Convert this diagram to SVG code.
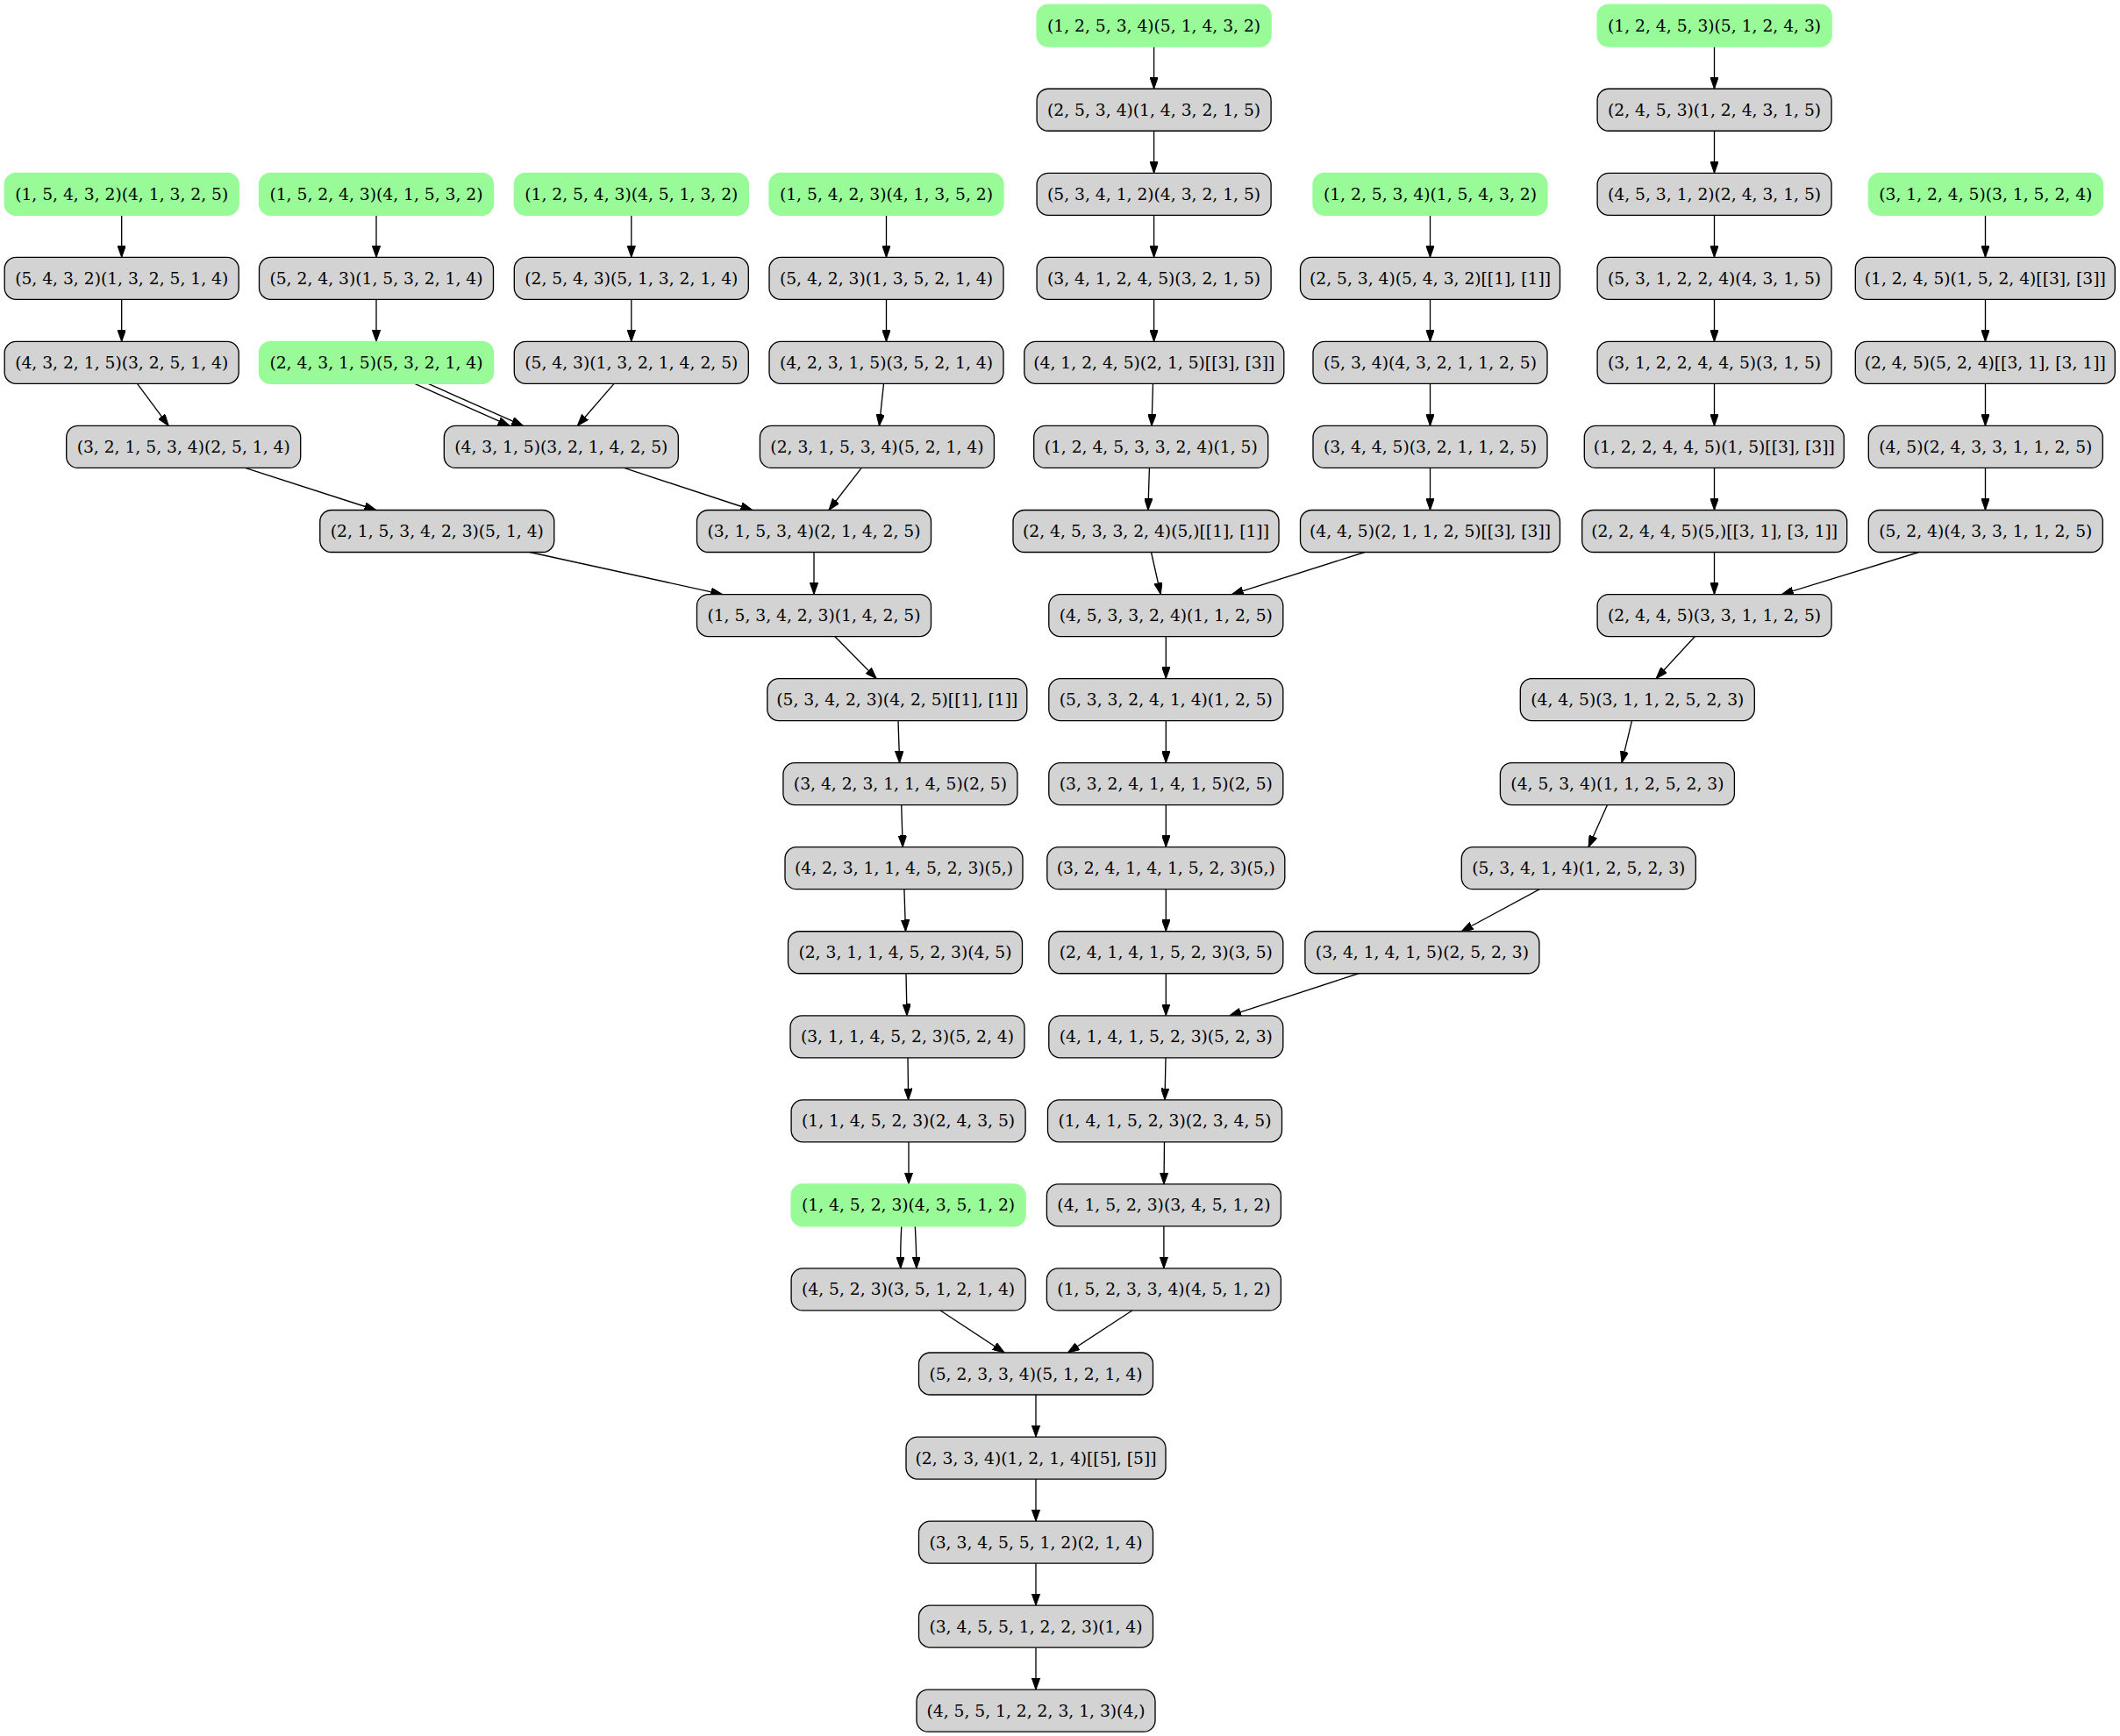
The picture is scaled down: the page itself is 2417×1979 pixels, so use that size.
<svg xmlns="http://www.w3.org/2000/svg" width="2417" height="1979" viewBox="0 0 2417 1979">
<style>
.n rect{fill:#d3d3d3;stroke:#000;stroke-width:1.33}
.g rect{fill:#98fb98;stroke:#98fb98;stroke-width:1.33}
text{font-family:"DejaVu Serif","Liberation Serif",serif;font-size:18.7px;text-anchor:middle;fill:#000}
.e path{fill:none;stroke:#000;stroke-width:1.33;marker-end:url(#ah)}
</style>
<defs>
<marker id="ah" markerUnits="userSpaceOnUse" viewBox="0 0 13.3 9.4" markerWidth="13.3" markerHeight="9.4" refX="13.3" refY="4.7" orient="auto">
<path d="M0,0 L13.3,4.7 L0,9.4 z" fill="#000" stroke="#000" stroke-width="1"/>
</marker>
</defs>
<rect width="2417" height="1979" fill="#fff"/>
<g class="e" id="edges">
<path d="M1315.6,53.2 L1315.6,101.25"/>
<path d="M1315.6,149.25 L1315.6,197.3"/>
<path d="M1315.6,245.3 L1315.6,293.35"/>
<path d="M1315.6,341.35 L1315.6,389.4"/>
<path d="M1314.5,437.4 L1313,485.45"/>
<path d="M1310.4,533.45 L1308.9,581.5"/>
<path d="M1312.5,629.5 L1323.3,677.55"/>
<path d="M1555.8,629.5 L1404.4,677.55"/>
<path d="M1954.5,53.2 L1954.5,101.25"/>
<path d="M1954.5,149.25 L1954.5,197.3"/>
<path d="M1954.5,245.3 L1954.5,293.35"/>
<path d="M1954.5,341.35 L1954.5,389.4"/>
<path d="M1954.5,437.4 L1954.5,485.45"/>
<path d="M1954.5,533.45 L1954.5,581.5"/>
<path d="M1954.5,629.5 L1954.5,677.55"/>
<path d="M2263.5,245.3 L2263.5,293.35"/>
<path d="M2263.5,341.35 L2263.5,389.4"/>
<path d="M2263.5,437.4 L2263.5,485.45"/>
<path d="M2263.5,533.45 L2263.5,581.5"/>
<path d="M2187.7,629.5 L2031.4,677.55"/>
<path d="M1630.5,245.3 L1630.5,293.35"/>
<path d="M1630.5,341.35 L1630.5,389.4"/>
<path d="M1630.5,437.4 L1630.5,485.45"/>
<path d="M1630.5,533.45 L1630.5,581.5"/>
<path d="M1932.4,725.55 L1888.1,773.6"/>
<path d="M1860.5,821.6 L1849,869.65"/>
<path d="M1832.4,917.65 L1811,965.7"/>
<path d="M1755.3,1013.7 L1666.2,1061.75"/>
<path d="M1549,1109.75 L1401.8,1157.8"/>
<path d="M1329.3,725.55 L1329.3,773.6"/>
<path d="M1329.3,821.6 L1329.3,869.65"/>
<path d="M1329.3,917.65 L1329.3,965.7"/>
<path d="M1329.3,1013.7 L1329.3,1061.75"/>
<path d="M1329.3,1109.75 L1329.3,1157.8"/>
<path d="M1329,1205.8 L1328,1253.85"/>
<path d="M1327.5,1301.85 L1327,1349.9"/>
<path d="M1326.9,1397.9 L1326.9,1445.95"/>
<path d="M1290.8,1493.95 L1217.4,1542"/>
<path d="M1072.2,1493.95 L1145.1,1542"/>
<path d="M1181,1590 L1181,1638.05"/>
<path d="M1181,1686.05 L1181,1734.1"/>
<path d="M1181,1782.1 L1181,1830.15"/>
<path d="M1181,1878.15 L1181,1926.2"/>
<path d="M1027.8,1397.9 Q1026.4,1420 1026.8,1445.95"/>
<path d="M1043.3,1397.9 Q1044.6,1420 1044.9,1445.95"/>
<path d="M1036,1301.85 L1036,1349.9"/>
<path d="M1035,1205.8 L1035.6,1253.85"/>
<path d="M1033,1109.75 L1034,1157.8"/>
<path d="M1030.9,1013.7 L1032.5,1061.75"/>
<path d="M1027.7,917.65 L1029.2,965.7"/>
<path d="M1024,821.6 L1025.6,869.65"/>
<path d="M951.7,725.55 L999.3,773.6"/>
<path d="M928,629.5 L928,677.55"/>
<path d="M604,629.5 L823.6,677.55"/>
<path d="M711.5,533.45 L857.7,581.5"/>
<path d="M982.2,533.45 L945,581.5"/>
<path d="M279.5,533.45 L428.8,581.5"/>
<path d="M156.5,437.4 L192.2,485.45"/>
<path d="M472.8,437.4 L581,485.45"/>
<path d="M488.2,437.4 L596.5,485.45"/>
<path d="M700.1,437.4 L658.3,485.45"/>
<path d="M1007.5,437.4 L1002.4,485.45"/>
<path d="M138.7,245.3 L138.7,293.35"/>
<path d="M138.7,341.35 L138.7,389.4"/>
<path d="M429,245.3 L429,293.35"/>
<path d="M429,341.35 L429,389.4"/>
<path d="M719.8,245.3 L719.8,293.35"/>
<path d="M719.8,341.35 L719.8,389.4"/>
<path d="M1010.5,245.3 L1010.5,293.35"/>
<path d="M1010.5,341.35 L1010.5,389.4"/>
</g>
<g id="A0" class="g"><rect x="1182.1" y="5.2" width="267" height="48" rx="13"/><text x="1315.6" y="35.7">(1, 2, 5, 3, 4)(5, 1, 4, 3, 2)</text></g>
<g id="B0" class="g"><rect x="1821.1" y="5.2" width="267" height="48" rx="13"/><text x="1954.6" y="35.7">(1, 2, 4, 5, 3)(5, 1, 2, 4, 3)</text></g>
<g id="A1" class="n"><rect x="1182.1" y="101.25" width="267" height="48" rx="13"/><text x="1315.6" y="131.75">(2, 5, 3, 4)(1, 4, 3, 2, 1, 5)</text></g>
<g id="B1" class="n"><rect x="1821.1" y="101.25" width="267" height="48" rx="13"/><text x="1954.6" y="131.75">(2, 4, 5, 3)(1, 2, 4, 3, 1, 5)</text></g>
<g id="C0" class="g"><rect x="5.2" y="197.3" width="267" height="48" rx="13"/><text x="138.7" y="227.8">(1, 5, 4, 3, 2)(4, 1, 3, 2, 5)</text></g>
<g id="D0" class="g"><rect x="295.5" y="197.3" width="267" height="48" rx="13"/><text x="429" y="227.8">(1, 5, 2, 4, 3)(4, 1, 5, 3, 2)</text></g>
<g id="E0" class="g"><rect x="586.3" y="197.3" width="267" height="48" rx="13"/><text x="719.8" y="227.8">(1, 2, 5, 4, 3)(4, 5, 1, 3, 2)</text></g>
<g id="F0" class="g"><rect x="877" y="197.3" width="267" height="48" rx="13"/><text x="1010.5" y="227.8">(1, 5, 4, 2, 3)(4, 1, 3, 5, 2)</text></g>
<g id="A2" class="n"><rect x="1182.1" y="197.3" width="267" height="48" rx="13"/><text x="1315.6" y="227.8">(5, 3, 4, 1, 2)(4, 3, 2, 1, 5)</text></g>
<g id="G0" class="g"><rect x="1497" y="197.3" width="267" height="48" rx="13"/><text x="1630.5" y="227.8">(1, 2, 5, 3, 4)(1, 5, 4, 3, 2)</text></g>
<g id="B2" class="n"><rect x="1821.1" y="197.3" width="267" height="48" rx="13"/><text x="1954.6" y="227.8">(4, 5, 3, 1, 2)(2, 4, 3, 1, 5)</text></g>
<g id="H0" class="g"><rect x="2130.3" y="197.3" width="267" height="48" rx="13"/><text x="2263.8" y="227.8">(3, 1, 2, 4, 5)(3, 1, 5, 2, 4)</text></g>
<g id="C1" class="n"><rect x="5.2" y="293.35" width="267" height="48" rx="13"/><text x="138.7" y="323.85">(5, 4, 3, 2)(1, 3, 2, 5, 1, 4)</text></g>
<g id="D1" class="n"><rect x="295.5" y="293.35" width="267" height="48" rx="13"/><text x="429" y="323.85">(5, 2, 4, 3)(1, 5, 3, 2, 1, 4)</text></g>
<g id="E1" class="n"><rect x="586.3" y="293.35" width="267" height="48" rx="13"/><text x="719.8" y="323.85">(2, 5, 4, 3)(5, 1, 3, 2, 1, 4)</text></g>
<g id="F1" class="n"><rect x="877" y="293.35" width="267" height="48" rx="13"/><text x="1010.5" y="323.85">(5, 4, 2, 3)(1, 3, 5, 2, 1, 4)</text></g>
<g id="A3" class="n"><rect x="1182.1" y="293.35" width="267" height="48" rx="13"/><text x="1315.6" y="323.85">(3, 4, 1, 2, 4, 5)(3, 2, 1, 5)</text></g>
<g id="G1" class="n"><rect x="1482.5" y="293.35" width="296" height="48" rx="13"/><text x="1630.5" y="323.85">(2, 5, 3, 4)(5, 4, 3, 2)[[1], [1]]</text></g>
<g id="B3" class="n"><rect x="1821.1" y="293.35" width="267" height="48" rx="13"/><text x="1954.6" y="323.85">(5, 3, 1, 2, 2, 4)(4, 3, 1, 5)</text></g>
<g id="H1" class="n"><rect x="2115.3" y="293.35" width="296" height="48" rx="13"/><text x="2263.3" y="323.85">(1, 2, 4, 5)(1, 5, 2, 4)[[3], [3]]</text></g>
<g id="C2" class="n"><rect x="5.2" y="389.4" width="267" height="48" rx="13"/><text x="138.7" y="419.9">(4, 3, 2, 1, 5)(3, 2, 5, 1, 4)</text></g>
<g id="D2" class="g"><rect x="295.5" y="389.4" width="267" height="48" rx="13"/><text x="429" y="419.9">(2, 4, 3, 1, 5)(5, 3, 2, 1, 4)</text></g>
<g id="E2" class="n"><rect x="586.3" y="389.4" width="267" height="48" rx="13"/><text x="719.8" y="419.9">(5, 4, 3)(1, 3, 2, 1, 4, 2, 5)</text></g>
<g id="F2" class="n"><rect x="877" y="389.4" width="267" height="48" rx="13"/><text x="1010.5" y="419.9">(4, 2, 3, 1, 5)(3, 5, 2, 1, 4)</text></g>
<g id="A4" class="n"><rect x="1167.8" y="389.4" width="296" height="48" rx="13"/><text x="1315.8" y="419.9">(4, 1, 2, 4, 5)(2, 1, 5)[[3], [3]]</text></g>
<g id="G2" class="n"><rect x="1497" y="389.4" width="267" height="48" rx="13"/><text x="1630.5" y="419.9">(5, 3, 4)(4, 3, 2, 1, 1, 2, 5)</text></g>
<g id="B4" class="n"><rect x="1821.1" y="389.4" width="267" height="48" rx="13"/><text x="1954.6" y="419.9">(3, 1, 2, 2, 4, 4, 5)(3, 1, 5)</text></g>
<g id="H2" class="n"><rect x="2115.3" y="389.4" width="296" height="48" rx="13"/><text x="2263.3" y="419.9">(2, 4, 5)(5, 2, 4)[[3, 1], [3, 1]]</text></g>
<g id="C3" class="n"><rect x="75.7" y="485.45" width="267" height="48" rx="13"/><text x="209.2" y="515.95">(3, 2, 1, 5, 3, 4)(2, 5, 1, 4)</text></g>
<g id="P" class="n"><rect x="506.3" y="485.45" width="267" height="48" rx="13"/><text x="639.8" y="515.95">(4, 3, 1, 5)(3, 2, 1, 4, 2, 5)</text></g>
<g id="F3" class="n"><rect x="866.4" y="485.45" width="267" height="48" rx="13"/><text x="999.9" y="515.95">(2, 3, 1, 5, 3, 4)(5, 2, 1, 4)</text></g>
<g id="A5" class="n"><rect x="1178.7" y="485.45" width="267" height="48" rx="13"/><text x="1312.2" y="515.95">(1, 2, 4, 5, 3, 3, 2, 4)(1, 5)</text></g>
<g id="G3" class="n"><rect x="1497" y="485.45" width="267" height="48" rx="13"/><text x="1630.5" y="515.95">(3, 4, 4, 5)(3, 2, 1, 1, 2, 5)</text></g>
<g id="B5" class="n"><rect x="1806.3" y="485.45" width="296" height="48" rx="13"/><text x="1954.3" y="515.95">(1, 2, 2, 4, 4, 5)(1, 5)[[3], [3]]</text></g>
<g id="H3" class="n"><rect x="2130.3" y="485.45" width="267" height="48" rx="13"/><text x="2263.8" y="515.95">(4, 5)(2, 4, 3, 3, 1, 1, 2, 5)</text></g>
<g id="C4" class="n"><rect x="364.8" y="581.5" width="267" height="48" rx="13"/><text x="498.3" y="612">(2, 1, 5, 3, 4, 2, 3)(5, 1, 4)</text></g>
<g id="Q" class="n"><rect x="794.5" y="581.5" width="267" height="48" rx="13"/><text x="928" y="612">(3, 1, 5, 3, 4)(2, 1, 4, 2, 5)</text></g>
<g id="A6" class="n"><rect x="1155" y="581.5" width="303" height="48" rx="13"/><text x="1306.5" y="612">(2, 4, 5, 3, 3, 2, 4)(5,)[[1], [1]]</text></g>
<g id="G4" class="n"><rect x="1482.5" y="581.5" width="296" height="48" rx="13"/><text x="1630.5" y="612">(4, 4, 5)(2, 1, 1, 2, 5)[[3], [3]]</text></g>
<g id="B6" class="n"><rect x="1803.7" y="581.5" width="302" height="48" rx="13"/><text x="1954.7" y="612">(2, 2, 4, 4, 5)(5,)[[3, 1], [3, 1]]</text></g>
<g id="H4" class="n"><rect x="2130.3" y="581.5" width="267" height="48" rx="13"/><text x="2263.8" y="612">(5, 2, 4)(4, 3, 3, 1, 1, 2, 5)</text></g>
<g id="R" class="n"><rect x="794.5" y="677.55" width="267" height="48" rx="13"/><text x="928" y="708.05">(1, 5, 3, 4, 2, 3)(1, 4, 2, 5)</text></g>
<g id="S" class="n"><rect x="1195.8" y="677.55" width="267" height="48" rx="13"/><text x="1329.3" y="708.05">(4, 5, 3, 3, 2, 4)(1, 1, 2, 5)</text></g>
<g id="T" class="n"><rect x="1821.1" y="677.55" width="267" height="48" rx="13"/><text x="1954.6" y="708.05">(2, 4, 4, 5)(3, 3, 1, 1, 2, 5)</text></g>
<g id="R1" class="n"><rect x="874.8" y="773.6" width="296" height="48" rx="13"/><text x="1022.8" y="804.1">(5, 3, 4, 2, 3)(4, 2, 5)[[1], [1]]</text></g>
<g id="S1" class="n"><rect x="1195.8" y="773.6" width="267" height="48" rx="13"/><text x="1329.3" y="804.1">(5, 3, 3, 2, 4, 1, 4)(1, 2, 5)</text></g>
<g id="T1" class="n"><rect x="1733.3" y="773.6" width="267" height="48" rx="13"/><text x="1866.8" y="804.1">(4, 4, 5)(3, 1, 1, 2, 5, 2, 3)</text></g>
<g id="R2" class="n"><rect x="892.9" y="869.65" width="267" height="48" rx="13"/><text x="1026.4" y="900.15">(3, 4, 2, 3, 1, 1, 4, 5)(2, 5)</text></g>
<g id="S2" class="n"><rect x="1195.8" y="869.65" width="267" height="48" rx="13"/><text x="1329.3" y="900.15">(3, 3, 2, 4, 1, 4, 1, 5)(2, 5)</text></g>
<g id="T2" class="n"><rect x="1710.4" y="869.65" width="267" height="48" rx="13"/><text x="1843.9" y="900.15">(4, 5, 3, 4)(1, 1, 2, 5, 2, 3)</text></g>
<g id="R3" class="n"><rect x="895" y="965.7" width="271" height="48" rx="13"/><text x="1030.5" y="996.2">(4, 2, 3, 1, 1, 4, 5, 2, 3)(5,)</text></g>
<g id="S3" class="n"><rect x="1193.8" y="965.7" width="271" height="48" rx="13"/><text x="1329.3" y="996.2">(3, 2, 4, 1, 4, 1, 5, 2, 3)(5,)</text></g>
<g id="T3" class="n"><rect x="1666.3" y="965.7" width="267" height="48" rx="13"/><text x="1799.8" y="996.2">(5, 3, 4, 1, 4)(1, 2, 5, 2, 3)</text></g>
<g id="R4" class="n"><rect x="898.5" y="1061.75" width="267" height="48" rx="13"/><text x="1032" y="1092.25">(2, 3, 1, 1, 4, 5, 2, 3)(4, 5)</text></g>
<g id="S4" class="n"><rect x="1195.8" y="1061.75" width="267" height="48" rx="13"/><text x="1329.3" y="1092.25">(2, 4, 1, 4, 1, 5, 2, 3)(3, 5)</text></g>
<g id="T4" class="n"><rect x="1487.9" y="1061.75" width="267" height="48" rx="13"/><text x="1621.4" y="1092.25">(3, 4, 1, 4, 1, 5)(2, 5, 2, 3)</text></g>
<g id="R5" class="n"><rect x="901" y="1157.8" width="267" height="48" rx="13"/><text x="1034.5" y="1188.3">(3, 1, 1, 4, 5, 2, 3)(5, 2, 4)</text></g>
<g id="S5" class="n"><rect x="1195.8" y="1157.8" width="267" height="48" rx="13"/><text x="1329.3" y="1188.3">(4, 1, 4, 1, 5, 2, 3)(5, 2, 3)</text></g>
<g id="R6" class="n"><rect x="902.1" y="1253.85" width="267" height="48" rx="13"/><text x="1035.6" y="1284.35">(1, 1, 4, 5, 2, 3)(2, 4, 3, 5)</text></g>
<g id="S6" class="n"><rect x="1194.5" y="1253.85" width="267" height="48" rx="13"/><text x="1328" y="1284.35">(1, 4, 1, 5, 2, 3)(2, 3, 4, 5)</text></g>
<g id="R7" class="g"><rect x="902.1" y="1349.9" width="267" height="48" rx="13"/><text x="1035.6" y="1380.4">(1, 4, 5, 2, 3)(4, 3, 5, 1, 2)</text></g>
<g id="S7" class="n"><rect x="1193.4" y="1349.9" width="267" height="48" rx="13"/><text x="1326.9" y="1380.4">(4, 1, 5, 2, 3)(3, 4, 5, 1, 2)</text></g>
<g id="R8" class="n"><rect x="902.1" y="1445.95" width="267" height="48" rx="13"/><text x="1035.6" y="1476.45">(4, 5, 2, 3)(3, 5, 1, 2, 1, 4)</text></g>
<g id="S8" class="n"><rect x="1193.4" y="1445.95" width="267" height="48" rx="13"/><text x="1326.9" y="1476.45">(1, 5, 2, 3, 3, 4)(4, 5, 1, 2)</text></g>
<g id="U" class="n"><rect x="1047.5" y="1542" width="267" height="48" rx="13"/><text x="1181" y="1572.5">(5, 2, 3, 3, 4)(5, 1, 2, 1, 4)</text></g>
<g id="V" class="n"><rect x="1033" y="1638.05" width="296" height="48" rx="13"/><text x="1181" y="1668.55">(2, 3, 3, 4)(1, 2, 1, 4)[[5], [5]]</text></g>
<g id="W" class="n"><rect x="1047.5" y="1734.1" width="267" height="48" rx="13"/><text x="1181" y="1764.6">(3, 3, 4, 5, 5, 1, 2)(2, 1, 4)</text></g>
<g id="X" class="n"><rect x="1047.5" y="1830.15" width="267" height="48" rx="13"/><text x="1181" y="1860.65">(3, 4, 5, 5, 1, 2, 2, 3)(1, 4)</text></g>
<g id="Y" class="n"><rect x="1045" y="1926.2" width="272" height="48" rx="13"/><text x="1181" y="1956.7">(4, 5, 5, 1, 2, 2, 3, 1, 3)(4,)</text></g>
</svg>
